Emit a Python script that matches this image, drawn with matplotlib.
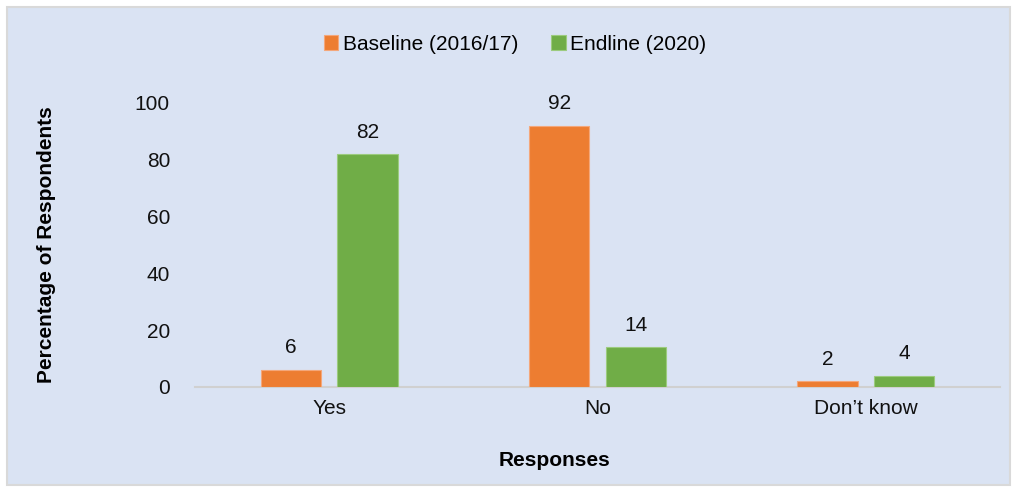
import matplotlib.pyplot as plt
import numpy as np
from matplotlib.patches import Rectangle

plt.rcParams['font.family'] = ['Liberation Sans', 'DejaVu Sans']

categories = ["Yes", "No", "Don\u2019t know"]
baseline = [6, 92, 2]
endline = [82, 14, 4]
series_names = ["Baseline (2016/17)", "Endline (2020)"]
yticks = [0, 20, 40, 60, 80, 100]

bg = "#DAE3F3"
orange = "#ED7D31"
green = "#70AD47"

fig = plt.figure(figsize=(10.14, 4.88), dpi=100)
fig.patch.set_facecolor("white")
fig.patches.append(Rectangle((7/1014, 3/488), 1003/1014, 478/488, transform=fig.transFigure,
                             facecolor=bg, edgecolor="#D9D9D9", linewidth=1.5, zorder=-10))

ax = fig.add_axes([195/1014, 1 - 387/488, 805/1014, 284/488])
ax.set_facecolor("none")
x = np.arange(len(categories))
w = 0.224
off = 0.143
b1 = ax.bar(x - off, baseline, w, color=orange, edgecolor="#F4A77A", linewidth=0.8, label=series_names[0], zorder=3)
b2 = ax.bar(x + off, endline, w, color=green, edgecolor="#9CCB7E", linewidth=0.8, label=series_names[1], zorder=3)
for bars in (b1, b2):
    ax.bar_label(bars, padding=9, fontsize=15, color="#111111")

ax.set_xlim(-0.5, 2.5)
ax.set_ylim(0, 100)
ax.set_yticks(yticks)
ax.set_xticks(x)
ax.set_xticklabels(categories)
ax.tick_params(axis='both', length=0, labelsize=15, colors="#111111")
ax.tick_params(axis='y', pad=18)
ax.tick_params(axis='x', pad=9)
for s in ["top", "right", "left"]:
    ax.spines[s].set_visible(False)
ax.spines["bottom"].set_color("#D0D0D0")
ax.spines["bottom"].set_linewidth(1.5)

fig.text(554/1014, 1 - 461/488, "Responses", ha="center", va="center", fontsize=15, fontweight="bold")
fig.text(47/1014, 1 - 245/488, "Percentage of Respondents", ha="center", va="center", rotation=90,
         fontsize=15, fontweight="bold")

leg = fig.legend(handles=[b1, b2], labels=series_names, loc="center", bbox_to_anchor=(515/1014, 1 - 44/488),
                 ncol=2, frameon=False, fontsize=15, handlelength=0.7, handleheight=0.7,
                 handletextpad=0.2, columnspacing=1.6)

fig.savefig("out.png", dpi=100, facecolor=fig.get_facecolor())
